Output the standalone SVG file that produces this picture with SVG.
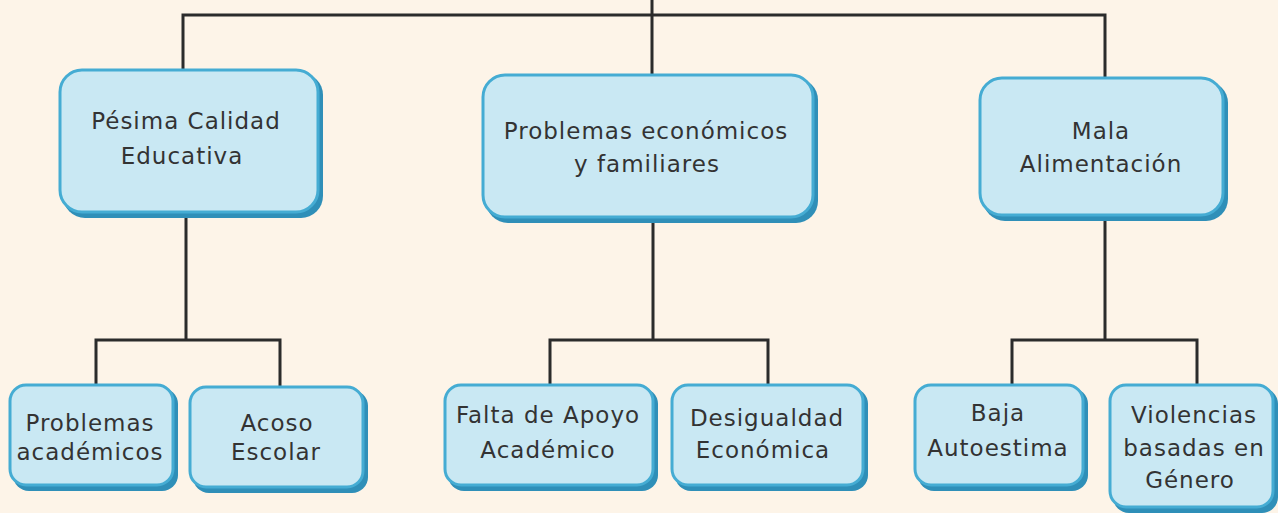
<svg xmlns="http://www.w3.org/2000/svg" width="1278" height="513" viewBox="0 0 1278 513">
<style>
.bg{fill:#fdf4e8}
.sh{fill:#2f8fb8}
.bx{fill:#c9e8f3;stroke:#45acd3;stroke-width:3}
.ln{stroke:#2b2b2b;stroke-width:3;fill:none}
text{font-family:"DejaVu Sans","Liberation Sans",sans-serif;font-size:23px;fill:#333;text-anchor:middle;letter-spacing:1px}
</style>
<rect class="bg" x="0" y="0" width="1278" height="513"/>
<g id="connectors">
<path class="ln" d="M183,70 V15 H1105 V78 M652,0 V75"/>
<path class="ln" d="M186,215 V340 M96,387 V340 H280 V387"/>
<path class="ln" d="M653,220 V340 M550,387 V340 H768 V387"/>
<path class="ln" d="M1105,218 V340 M1012,385 V340 H1197 V385"/>
</g>
<g id="n1"><rect class="sh" x="63" y="73" width="260" height="145" rx="22"/><rect class="bx" x="60" y="70" width="258" height="142" rx="22"/><text x="186" y="129">Pésima Calidad</text><text x="182" y="164">Educativa</text></g>
<g id="n2"><rect class="sh" x="486" y="78" width="332" height="145" rx="22"/><rect class="bx" x="483" y="75" width="330" height="142" rx="22"/><text x="646" y="139">Problemas económicos</text><text x="647" y="172">y familiares</text></g>
<g id="n3"><rect class="sh" x="983" y="81" width="245" height="140" rx="22"/><rect class="bx" x="980" y="78" width="243" height="137" rx="22"/><text x="1101" y="139">Mala</text><text x="1101" y="172">Alimentación</text></g>
<g id="n4"><rect class="sh" x="13" y="388" width="165" height="103" rx="16"/><rect class="bx" x="10" y="385" width="163" height="100" rx="16"/><text x="90" y="431">Problemas</text><text x="90" y="460">académicos</text></g>
<g id="n5"><rect class="sh" x="193" y="390" width="175" height="103" rx="16"/><rect class="bx" x="190" y="387" width="173" height="100" rx="16"/><text x="277" y="431">Acoso</text><text x="276" y="460">Escolar</text></g>
<g id="n6"><rect class="sh" x="448" y="388" width="210" height="103" rx="16"/><rect class="bx" x="445" y="385" width="208" height="100" rx="16"/><text x="548" y="423">Falta de Apoyo</text><text x="548" y="458">Académico</text></g>
<g id="n7"><rect class="sh" x="675" y="388" width="193" height="103" rx="16"/><rect class="bx" x="672" y="385" width="191" height="100" rx="16"/><text x="767" y="426">Desigualdad</text><text x="763" y="458">Económica</text></g>
<g id="n8"><rect class="sh" x="918" y="388" width="170" height="103" rx="16"/><rect class="bx" x="915" y="385" width="168" height="100" rx="16"/><text x="998" y="421">Baja</text><text x="998" y="456">Autoestima</text></g>
<g id="n9"><rect class="sh" x="1113" y="388" width="165" height="125" rx="16"/><rect class="bx" x="1110" y="385" width="163" height="122" rx="16"/><text x="1194" y="423">Violencias</text><text x="1194" y="456">basadas en</text><text x="1190" y="488">Género</text></g>
</svg>
